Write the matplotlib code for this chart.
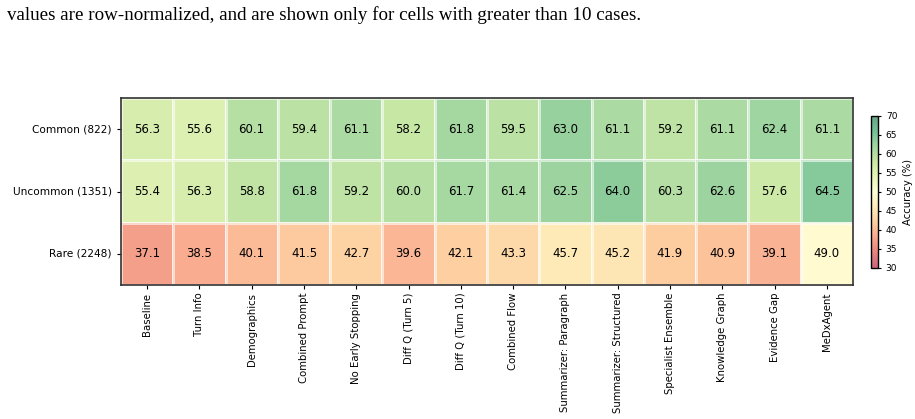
#!/usr/bin/env python3
"""
Heatmap of accuracy per disease-frequency bucket and agent variant.

Writes:
    out.png
"""

import numpy as np
import pandas as pd
import matplotlib
matplotlib.use("Agg")
import matplotlib.pyplot as plt
import seaborn as sns


ROW_LABELS = ["Common (822)", "Uncommon (1351)", "Rare (2248)"]
COL_LABELS = [
    "Baseline",
    "Turn Info",
    "Demographics",
    "Combined Prompt",
    "No Early Stopping",
    "Diff Q (Turn 5)",
    "Diff Q (Turn 10)",
    "Combined Flow",
    "Summarizer: Paragraph",
    "Summarizer: Structured",
    "Specialist Ensemble",
    "Knowledge Graph",
    "Evidence Gap",
    "MeDxAgent",
]

common = [56.3, 55.6, 60.1, 59.4, 61.1, 58.2, 61.8, 59.5, 63.0, 61.1, 59.2, 61.1, 62.4, 61.1]
uncommon = [55.4, 56.3, 58.8, 61.8, 59.2, 60.0, 61.7, 61.4, 62.5, 64.0, 60.3, 62.6, 57.6, 64.5]
rare = [37.1, 38.5, 40.1, 41.5, 42.7, 39.6, 42.1, 43.3, 45.7, 45.2, 41.9, 40.9, 39.1, 49.0]

CAPTION = "values are row-normalized, and are shown only for cells with greater than 10 cases."


def main() -> None:
    df = pd.DataFrame(np.array([common, uncommon, rare]), index=ROW_LABELS, columns=COL_LABELS)

    fig = plt.figure(figsize=(9.15, 4.19), dpi=100)
    ax = fig.add_axes([0.1322, 0.3198, 0.8, 0.4463])
    cax = fig.add_axes([0.952, 0.3604, 0.0077, 0.3628])

    sns.heatmap(
        df,
        ax=ax,
        cbar_ax=cax,
        cmap="RdYlGn",
        vmin=30,
        vmax=70,
        alpha=0.6,
        annot=True,
        fmt=".1f",
        annot_kws={"fontsize": 8.5, "color": "black"},
        linewidths=1,
        linecolor="white",
    )

    # keep a frame round the grid like the original
    for spine in ax.spines.values():
        spine.set_visible(True)
        spine.set_color("#333333")
        spine.set_linewidth(1.2)

    ax.set_xlabel("")
    ax.set_ylabel("")
    ax.tick_params(axis="y", labelsize=7.6, length=3)
    ax.tick_params(axis="x", labelsize=7.3, length=3, pad=2.5)
    ax.set_xticklabels(COL_LABELS, rotation=90)
    ax.set_yticklabels(ROW_LABELS, rotation=0)

    cbar = ax.collections[0].colorbar
    cbar.set_ticks([30, 35, 40, 45, 50, 55, 60, 65, 70])
    cbar.ax.tick_params(labelsize=6.5, length=2)
    cbar.set_label("Accuracy (%)", fontsize=7.2)
    cbar.outline.set_visible(True)
    cbar.outline.set_linewidth(1.0)

    fig.text(0.008, 0.963, CAPTION, fontsize=13.7, family="Liberation Serif",
             ha="left", va="center")

    fig.savefig("out.png", dpi=100)
    plt.close(fig)


if __name__ == "__main__":
    main()
